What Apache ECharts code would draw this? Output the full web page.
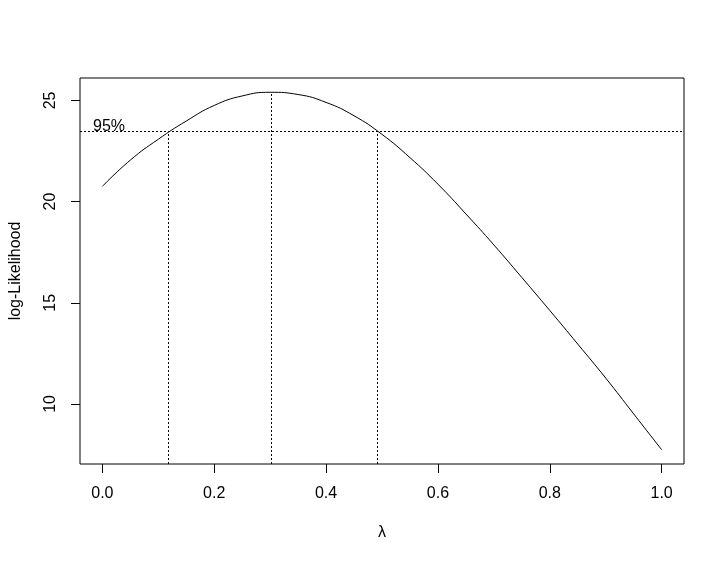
<!DOCTYPE html>
<html><head><meta charset="utf-8">
<script src="https://cdn.jsdelivr.net/npm/echarts@6/dist/echarts.min.js"></script>
<style>html,body{margin:0;padding:0;background:#fff}#c{width:725px;height:562px}</style>
</head><body><div id="c"></div>
<script>
const lambdas = [0,0.05,0.10,0.15,0.20,0.25,0.30,0.35,0.40,0.45,0.50,0.55,0.60,0.65,0.70,0.75,0.80,0.85,0.90,0.95,1.00];
const logLik  = [20.75,22.05,23.08,23.98,24.75,25.22,25.40,25.29,24.90,24.24,23.32,22.17,20.86,19.39,17.86,16.25,14.62,12.96,11.28,9.51,7.74];
const xTicks = [0,0.2,0.4,0.6,0.8,1.0];
const yTicks = [10,15,20,25];
const ciLambda = [0.118,0.302,0.491];
const ciLogLik = [23.47,25.40,23.47];
const lim = 23.47;
const limLabel = '95%';
const xTitle = 'λ';
const yTitle = 'log-Likelihood';

const font = '"Liberation Sans", Arial, sans-serif';
const xr = [Math.min(...lambdas), Math.max(...lambdas)];
const yr = [Math.min(...logLik), Math.max(...logLik)];
const xPad = (xr[1]-xr[0])*0.04, yPad = (yr[1]-yr[0])*0.04;
const xMin = xr[0]-xPad, xMax = xr[1]+xPad, yMin = yr[0]-yPad, yMax = yr[1]+yPad;

const dotted = {color:'#000', width:1, type:[2,2]};
const vSegs = ciLambda.map((l,i)=>[{coord:[l,yMin]},{coord:[l,ciLogLik[i]]}]);

const chart = echarts.init(document.getElementById('c'), null, {renderer:'canvas'});
chart.setOption({
  animation:false,
  backgroundColor:'#fff',
  grid:{left:78, top:78, width:606, height:386, show:true, borderColor:'#000', borderWidth:1, containLabel:false},
  xAxis:{
    type:'value', min:xMin, max:xMax,
    axisLine:{show:false, onZero:false},
    axisTick:{show:true, inside:false, length:9, customValues:xTicks, lineStyle:{color:'#000', width:1}},
    axisLabel:{customValues:xTicks, formatter:v=>v.toFixed(1), fontSize:16, color:'#000', fontFamily:font, margin:22},
    splitLine:{show:false},
    name:xTitle, nameLocation:'middle', nameGap:61,
    nameTextStyle:{fontSize:16, color:'#000', fontFamily:font}
  },
  yAxis:{
    type:'value', min:yMin, max:yMax,
    axisLine:{show:false, onZero:false},
    axisTick:{show:true, inside:false, length:9, customValues:yTicks, lineStyle:{color:'#000', width:1}},
    axisLabel:{customValues:yTicks, formatter:v=>String(Math.round(v)), rotate:90, fontSize:16, color:'#000', fontFamily:font, margin:21},
    splitLine:{show:false},
    name:yTitle, nameLocation:'middle', nameGap:56, nameRotate:90,
    nameTextStyle:{fontSize:16, color:'#000', fontFamily:font}
  },
  series:[{
    type:'line',
    data:lambdas.map((l,i)=>[l,logLik[i]]),
    smooth:true, showSymbol:false, symbol:'none',
    lineStyle:{color:'#000', width:1},
    markLine:{
      silent:true, symbol:['none','none'], animation:false,
      lineStyle:dotted,
      data:[
        {yAxis:lim, label:{show:true, formatter:limLabel, position:'insideStartTop', distance:[13,-3], fontSize:16, color:'#000', fontFamily:font}},
        ...vSegs.map(s=>[Object.assign({},s[0],{label:{show:false}}), s[1]])
      ]
    }
  }]
});
</script></body></html>
